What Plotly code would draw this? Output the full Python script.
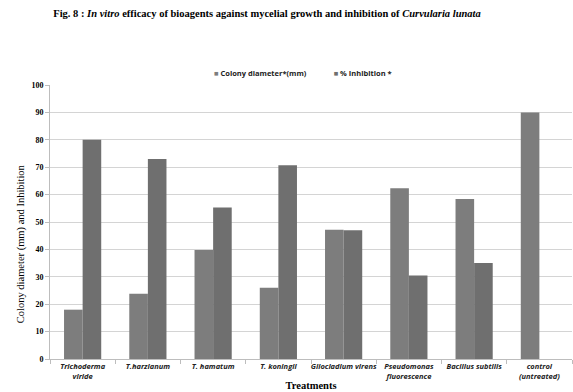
import plotly.graph_objects as go

# Treatments and measured values
treatments = ["Trichoderma<br>viride", "T.harzianum", "T. hamatum", "T. koningii",
              "Gliocladium virens", "Pseudomonas<br>fluorescence", "Bacillus subtilis",
              "control<br>(untreated)"]
colony_diameter = [18.0, 23.8, 39.8, 26.0, 47.2, 62.3, 58.4, 90.0]
inhibition = [80.0, 73.0, 55.3, 70.7, 47.0, 30.5, 35.0, 0.0]
series_names = ["Colony diameter*(mm)", "% Inhibition *"]
series_colors = ["#7d7d7d", "#6f6f6f"]
y_ticks = list(range(0, 101, 10))

tick_text = ["<i><b>" + t.replace("<br>", "</b></i><br><i><b>") + "</b></i>" for t in treatments]

fig = go.Figure()
for vals, name, col in zip([colony_diameter, inhibition], series_names, series_colors):
    fig.add_trace(go.Bar(x=treatments, y=vals, name=name, showlegend=False,
                         marker=dict(color=col, line=dict(width=0))))

# compact legend row: small square key followed by its label
separator = "&nbsp;" * 14
legend_html = separator.join(
    "<span style='color:%s'>■</span>&nbsp;<b>%s</b>" % (c, n) for n, c in zip(series_names, series_colors))
fig.add_annotation(text=legend_html, xref="paper", yref="paper", x=0.485, y=1.045,
                   xanchor="center", yanchor="middle", showarrow=False,
                   font=dict(family="Open Sans", size=7.5, color="#222"))

fig.update_layout(
    width=573, height=392,
    margin=dict(l=50, r=1, t=85, b=33),
    paper_bgcolor="white", plot_bgcolor="white",
    barmode="group", bargap=0.43, bargroupgap=0,
    showlegend=False,
    title=dict(
        text="<b>Fig. 8 : <i>In vitro</i> efficacy of bioagents against mycelial growth and inhibition of <i>Curvularia lunata</i></b>",
        x=0.466, xref="container", y=0.965, yref="container", xanchor="center", yanchor="middle",
        font=dict(family="Liberation Serif", size=10.5, color="black")),
)

fig.update_xaxes(
    type="category", tickson="boundaries", ticks="outside", ticklen=4,
    tickcolor="#bdbdbd", showline=True, linecolor="#bdbdbd", linewidth=1,
    tickvals=treatments, ticktext=tick_text, tickangle=0,
    tickfont=dict(family="Open Sans", size=7.5, color="#222"),
    title=dict(text="<b>Treatments</b>", font=dict(family="Liberation Serif", size=10.5, color="black"),
               standoff=1),
)
fig.update_yaxes(
    range=[0, 100], tickvals=y_ticks, ticktext=["<b>%d</b>" % v for v in y_ticks],
    showgrid=True, gridcolor="#d4d4d4", gridwidth=1,
    ticks="outside", ticklen=4, tickcolor="#bdbdbd", showline=True, linecolor="#bdbdbd",
    zeroline=False,
    tickfont=dict(family="Liberation Serif", size=8, color="black"),
)

fig.add_annotation(
    text="Colony diameter (mm) and Inhibition", textangle=-90,
    xref="paper", yref="paper", x=-0.055, y=0.42, xanchor="center", yanchor="middle",
    showarrow=False, font=dict(family="Liberation Serif", size=10.5, color="black"),
)

fig.write_html("out.html")
